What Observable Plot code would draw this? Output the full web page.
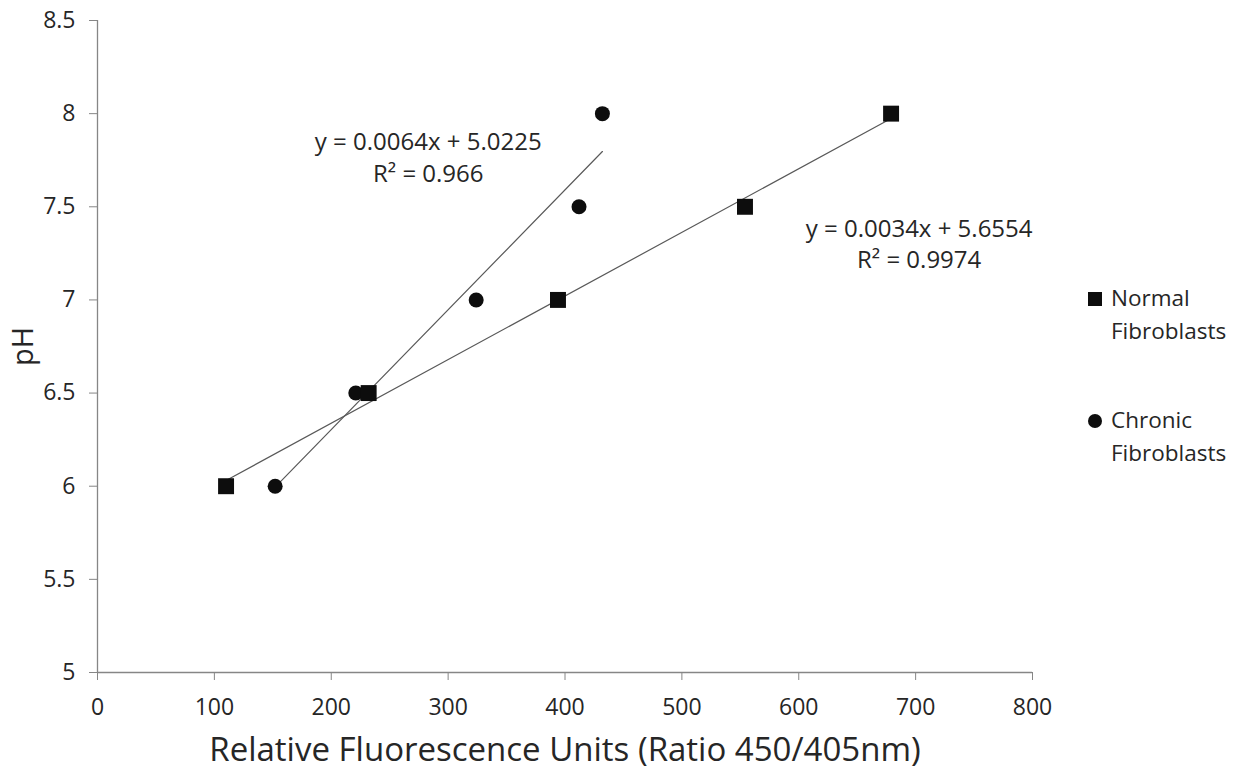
<!DOCTYPE html>
<html>
<head>
<meta charset="utf-8">
<script src="https://cdn.jsdelivr.net/npm/d3@7"></script>
<script src="https://cdn.jsdelivr.net/npm/@observablehq/plot@0.6"></script>
<style>
  html, body { margin: 0; padding: 0; background: #fff; }
  #wrap { position: relative; width: 1248px; height: 776px; font-family: "Open Sans", sans-serif; }
  #wrap svg g[aria-label="x-axis label"] text { font-size: 33px; }
  #wrap svg g[aria-label="y-axis label"] text { font-size: 29px; }
  .legend { position: absolute; left: 1087px; font-size: 22.5px; color: #262626; line-height: 33px; }
  .legend .row { position: absolute; left: 0; white-space: nowrap; }
  .legend .sym { position: absolute; left: 1px; width: 14px; height: 14px; background: #0d0d0d; }
  .legend .txt { position: absolute; left: 24px; }
</style>
</head>
<body>
<div id="wrap"></div>
<script>
// Data
const seriesNames = ["Normal Fibroblasts", "Chronic Fibroblasts"];
const normalX = [110, 232, 394, 554, 679];
const normalY = [6, 6.5, 7, 7.5, 8];
const chronicX = [152, 221, 324, 412, 432];
const chronicY = [6, 6.5, 7, 7.5, 8];
const xTicks = [0, 100, 200, 300, 400, 500, 600, 700, 800];
const yTicks = [5, 5.5, 6, 6.5, 7, 7.5, 8, 8.5];
const eqTexts = ["y = 0.0064x + 5.0225\nR² = 0.966", "y = 0.0034x + 5.6554\nR² = 0.9974"];
const eqX = [283, 703];
const eqY = [7.773, 7.308];
const xLabel = "Relative Fluorescence Units (Ratio 450/405nm)";
const yLabel = "pH";

const normal = normalX.map((x, i) => ({x, y: normalY[i]}));
const chronic = chronicX.map((x, i) => ({x, y: chronicY[i]}));
const eqs = eqTexts.map((t, i) => ({text: t, x: eqX[i], y: eqY[i]}));

const axisColor = "#868686";
const textColor = "#262626";

const chart = Plot.plot({
  width: 1248,
  height: 776,
  marginLeft: 97,
  marginRight: 216,
  marginTop: 20,
  marginBottom: 104,
  style: {fontFamily: "Open Sans", fontSize: "23px", color: textColor, background: "white", overflow: "visible"},
  x: {domain: [0, 800]},
  y: {domain: [5, 8.5]},
  marks: [
    Plot.ruleX([0], {stroke: axisColor, strokeWidth: 1.3}),
    Plot.ruleY([5], {stroke: axisColor, strokeWidth: 1.3}),
    Plot.axisX({ticks: xTicks, tickSize: 8, tickPadding: 18, stroke: axisColor, fill: textColor, fontSize: 23,
      tickFormat: d => String(d), label: xLabel, labelAnchor: "center", labelArrow: "none", labelOffset: 88}),
    Plot.axisY({ticks: yTicks, tickSize: 8, tickPadding: 14, stroke: axisColor, fill: textColor, fontSize: 23,
      tickFormat: d => String(d), label: yLabel, labelAnchor: "center", labelArrow: "none", labelOffset: 85}),
    Plot.linearRegressionY(chronic, {x: "x", y: "y", ci: 0, stroke: "#595959", strokeWidth: 1.2}),
    Plot.linearRegressionY(normal, {x: "x", y: "y", ci: 0, stroke: "#595959", strokeWidth: 1.2}),
    Plot.dot(chronic, {x: "x", y: "y", r: 7.5, symbol: "circle", fill: "#0d0d0d", stroke: "none"}),
    Plot.dot(normal, {x: "x", y: "y", r: 9, symbol: "square", fill: "#0d0d0d", stroke: "none"}),
    Plot.text(eqs, {x: "x", y: "y", text: "text", fontSize: 24, fill: textColor, lineHeight: 1.3, textAnchor: "middle", lineAnchor: "middle"})
  ]
});

const wrap = document.getElementById("wrap");
wrap.appendChild(chart);

// Legend (HTML)
const legend = document.createElement("div");
legend.className = "legend";
legend.style.top = "0px";
const rows = [
  {name: seriesNames[0], top: 281, round: false},
  {name: seriesNames[1], top: 403, round: true}
];
rows.forEach(r => {
  const row = document.createElement("div");
  row.className = "row";
  row.style.top = r.top + "px";
  const sym = document.createElement("div");
  sym.className = "sym";
  sym.style.top = "11px";
  if (r.round) sym.style.borderRadius = "50%";
  const txt = document.createElement("div");
  txt.className = "txt";
  const parts = r.name.split(" ");
  txt.innerHTML = parts[0] + "<br>" + parts[1];
  row.appendChild(sym);
  row.appendChild(txt);
  legend.appendChild(row);
});
wrap.appendChild(legend);
</script>
</body>
</html>
